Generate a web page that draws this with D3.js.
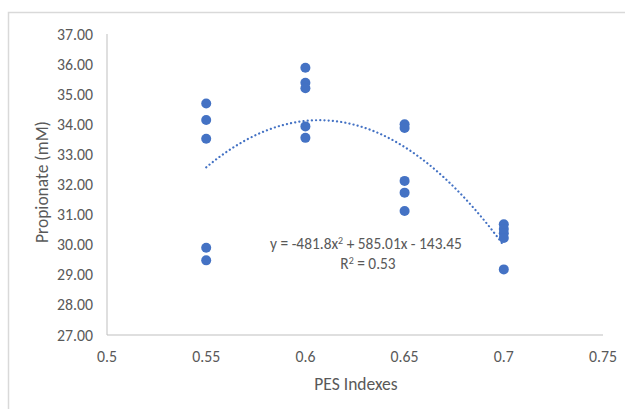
<!DOCTYPE html>
<html><head><meta charset="utf-8">
<script src="https://cdn.jsdelivr.net/npm/d3@7"></script>
<style>
html,body{margin:0;padding:0;background:#fff;}
svg{display:block;}
text{font-family:Calibri,Carlito,Lato,sans-serif;fill:#595959;}
</style></head>
<body><svg id="c" width="625" height="409"></svg>
<script>
const pesIndex = [0.55,0.55,0.55,0.55,0.55, 0.6,0.6,0.6,0.6,0.6, 0.65,0.65,0.65,0.65,0.65, 0.7,0.7,0.7,0.7,0.7];
const propionate = [34.69,34.14,33.52,29.90,29.48, 35.88,35.38,35.20,33.93,33.55, 34.00,33.88,32.12,31.73,31.12, 30.68,30.52,30.38,30.22,29.18];
const xTicks = [0.5,0.55,0.6,0.65,0.7,0.75];
const yTicks = [27,28,29,30,31,32,33,34,35,36,37];
const equationText = ["y = -481.8x", "2", " + 585.01x - 143.45"];
const r2Text = ["R", "2", " = 0.53"];
const xTitle = "PES Indexes";
const yTitle = "Propionate (mM)";

const svg = d3.select("#c");
const blue = "#4472C4";

// outer chart border
svg.append("rect").attr("x",8.5).attr("y",12.5).attr("width",640).attr("height",420)
  .attr("fill","none").attr("stroke","#d9d9d9").attr("stroke-width",1.5);

const x = d3.scaleLinear().domain([0.5,0.75]).range([107,603]);
const y = d3.scaleLinear().domain([27,37]).range([335,34]);

// axes lines
svg.append("line").attr("x1",x(0.5)).attr("x2",x(0.5)).attr("y1",y(37)).attr("y2",y(27)).attr("stroke","#bfbfbf").attr("stroke-width",1);
svg.append("line").attr("x1",x(0.5)).attr("x2",x(0.75)).attr("y1",y(27)).attr("y2",y(27)).attr("stroke","#bfbfbf").attr("stroke-width",1);

// y tick labels
svg.append("g").selectAll("text").data(yTicks).join("text")
  .attr("x",93).attr("y",d=>y(d)).attr("dy","0.35em").attr("text-anchor","end")
  .attr("font-size",15.8).text(d=>d3.format(".2f")(d));
// x tick labels
svg.append("g").selectAll("text").data(xTicks).join("text")
  .attr("x",d=>x(d)).attr("y",362).attr("text-anchor","middle")
  .attr("font-size",15.8).text(d=>String(d));

// axis titles
svg.append("text").attr("x",356).attr("y",390).attr("text-anchor","middle").attr("font-size",17.5).text(xTitle);
svg.append("text").attr("transform","translate(48,182) rotate(-90)").attr("text-anchor","middle").attr("font-size",17.5).text(yTitle);

// quadratic least-squares fit
function fitQuad(xs, ys){
  let S=[0,0,0,0,0], T=[0,0,0];
  xs.forEach((xv,i)=>{ for(let k=0;k<5;k++) S[k]+=Math.pow(xv,k); for(let k=0;k<3;k++) T[k]+=ys[i]*Math.pow(xv,k); });
  const A=[[S[0],S[1],S[2],T[0]],[S[1],S[2],S[3],T[1]],[S[2],S[3],S[4],T[2]]];
  for(let i=0;i<3;i++){ for(let j=i+1;j<3;j++){ const f=A[j][i]/A[i][i]; for(let k=i;k<4;k++) A[j][k]-=f*A[i][k]; } }
  const c=[0,0,0];
  for(let i=2;i>=0;i--){ let s=A[i][3]; for(let k=i+1;k<3;k++) s-=A[i][k]*c[k]; c[i]=s/A[i][i]; }
  return c;
}
const c = fitQuad(pesIndex, propionate);
const xmin=d3.min(pesIndex), xmax=d3.max(pesIndex);
const curve = d3.range(0,101).map(i=>{ const xv=xmin+(xmax-xmin)*i/100; return [xv, c[0]+c[1]*xv+c[2]*xv*xv]; });
svg.append("path").datum(curve)
  .attr("d",d3.line().x(d=>x(d[0])).y(d=>y(d[1])))
  .attr("fill","none").attr("stroke",blue).attr("stroke-width",2.2)
  .attr("stroke-dasharray","0.1 4.1").attr("stroke-linecap","round");

// points
svg.append("g").selectAll("circle").data(pesIndex.map((d,i)=>[d,propionate[i]])).join("circle")
  .attr("cx",d=>x(d[0])).attr("cy",d=>y(d[1])).attr("r",5).attr("fill",blue);

// equation labels
const eq = svg.append("text").attr("x",366).attr("y",249).attr("text-anchor","middle").attr("font-size",15.4);
eq.append("tspan").text(equationText[0]);
eq.append("tspan").attr("dy",-5.5).attr("font-size",10).text(equationText[1]);
eq.append("tspan").attr("dy",5.5).text(equationText[2]);
const r2 = svg.append("text").attr("x",368).attr("y",269).attr("text-anchor","middle").attr("font-size",15.4);
r2.append("tspan").text(r2Text[0]);
r2.append("tspan").attr("dy",-5.5).attr("font-size",10).text(r2Text[1]);
r2.append("tspan").attr("dy",5.5).text(r2Text[2]);
</script></body></html>
